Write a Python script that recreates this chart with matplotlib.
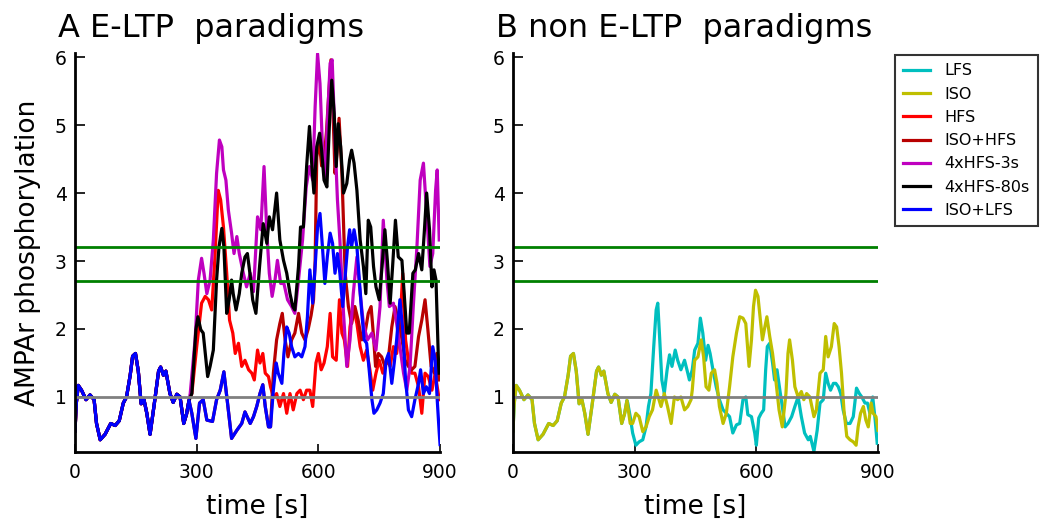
import matplotlib
matplotlib.use('Agg')
import matplotlib.pyplot as plt
import numpy as np

# pre-stimulus trace, shared by every protocol (time [s], value)
baseline = [(0, 0.5), (3, 0.9), (8, 1.17), (16, 1.10), (27, 0.96), (37, 1.03),
            (47, 0.96), (53, 0.61), (62, 0.37), (74, 0.45), (88, 0.61), (99, 0.58),
            (109, 0.65), (119, 0.91), (127, 1.0), (136, 1.32), (142, 1.60),
            (149, 1.64), (156, 1.38), (163, 0.90), (170, 0.96), (177, 0.76),
            (185, 0.45), (195, 0.88), (206, 1.38), (211, 1.44), (218, 1.32),
            (224, 1.38), (234, 1.05), (242, 0.92), (251, 1.04), (259, 1.0),
            (268, 0.61), (275, 0.75), (281, 0.95)]

# left panel: E-LTP paradigms
iso_lfs = [(288, 0.76), (298, 0.39), (307, 0.91), (316, 0.96), (325, 0.66), (339, 0.64),
           (349, 0.96), (358, 1.10), (367, 1.37), (376, 0.91), (386, 0.39), (399, 0.51),
           (411, 0.61), (419, 0.78), (432, 0.61), (440, 0.71), (448, 0.86), (456, 1.05),
           (463, 1.18), (469, 0.86), (477, 0.56), (482, 0.56), (489, 1.10), (496, 1.50),
           (501, 1.35), (510, 1.20), (515, 1.64), (522, 2.03), (528, 1.94), (534, 1.74),
           (542, 1.59), (551, 1.64), (559, 1.59), (567, 1.74), (573, 2.18), (579, 2.87),
           (586, 2.38), (592, 2.92), (598, 3.50), (604, 3.70), (610, 3.21), (616, 2.67),
           (622, 3.06), (629, 3.41), (635, 3.26), (641, 2.82), (647, 3.11), (653, 2.82),
           (660, 2.33), (666, 2.77), (672, 3.21), (677, 3.46), (682, 3.21), (688, 3.46),
           (695, 3.21), (701, 2.72), (707, 2.23), (713, 1.84), (719, 1.79), (726, 1.35),
           (732, 0.96), (737, 0.76), (744, 0.81), (752, 0.91), (760, 1.05), (767, 1.54),
           (773, 1.64), (781, 1.20), (787, 1.50), (793, 1.84), (801, 2.43), (808, 1.99),
           (815, 1.25), (822, 0.81), (830, 0.71), (838, 0.96), (847, 1.20), (852, 1.40),
           (859, 1.05), (866, 1.15), (874, 1.05), (882, 1.74), (888, 1.54), (893, 0.96),
           (898, 0.47), (900, 0.3)]

hfs = [(288, 1.05), (300, 1.74), (312, 2.38), (321, 2.48), (329, 2.43), (337, 2.28),
       (345, 3.06), (353, 4.04), (359, 3.90), (366, 3.50), (374, 2.82), (381, 2.13),
       (389, 1.94), (395, 1.64), (403, 1.79), (411, 1.45), (419, 1.54), (428, 1.40),
       (436, 1.35), (442, 1.25), (450, 1.69), (456, 1.50), (463, 1.64), (469, 1.35),
       (477, 1.30), (482, 1.15), (489, 1.0), (497, 1.05), (505, 0.86), (514, 1.05),
       (522, 0.76), (530, 1.05), (538, 0.81), (547, 1.05), (555, 1.10), (563, 0.96),
       (571, 1.10), (579, 1.10), (586, 0.86), (594, 1.50), (600, 1.64), (607, 1.40),
       (614, 1.50), (622, 1.74), (629, 2.23), (635, 1.59), (644, 1.54), (652, 2.43),
       (658, 1.94), (664, 1.84), (672, 1.45), (678, 2.03), (686, 2.33), (695, 2.08),
       (703, 1.74), (711, 1.54), (719, 1.69), (727, 1.40), (734, 1.10), (742, 1.35),
       (750, 1.54), (759, 1.35), (769, 1.54), (777, 1.45), (785, 1.74), (793, 1.64),
       (801, 2.03), (808, 2.82), (815, 1.84), (822, 1.54), (830, 1.35), (838, 1.35),
       (847, 1.15), (855, 0.76), (863, 1.35), (871, 1.30), (880, 1.10), (888, 1.35),
       (893, 1.15), (898, 0.96)]

# ISO+HFS follows the ISO+LFS trace until ~485 s
iso_hfs = [(489, 1.35), (497, 1.84), (505, 2.08), (511, 2.23), (518, 1.84), (525, 1.59),
           (534, 1.84), (542, 1.94), (551, 2.23), (559, 1.94), (567, 1.84), (575, 2.0),
           (582, 2.2), (588, 2.43), (592, 3.0), (596, 4.53), (602, 4.78), (608, 4.4),
           (614, 4.5), (620, 4.9), (626, 5.5), (631, 5.96), (636, 5.2), (641, 4.29),
           (646, 4.6), (651, 5.10), (658, 4.29), (666, 2.82), (674, 2.33), (682, 2.08),
           (690, 2.33), (698, 2.13), (707, 1.84), (715, 1.94), (723, 2.23), (730, 2.33),
           (736, 1.89), (741, 1.45), (748, 1.64), (756, 1.59), (764, 1.45), (773, 1.59),
           (781, 2.03), (789, 2.33), (797, 2.13), (805, 1.89), (814, 1.54), (822, 1.45),
           (830, 1.40), (838, 1.45), (847, 1.89), (855, 2.13), (863, 2.43), (870, 1.99),
           (878, 1.45), (886, 1.35), (892, 1.64), (897, 1.25)]

hfs4_3s = [(284, 1.05), (296, 1.84), (304, 2.72), (312, 3.04), (318, 2.82), (325, 2.52),
           (333, 2.72), (341, 3.31), (349, 4.29), (356, 4.78), (362, 4.68), (366, 4.34),
           (372, 4.19), (378, 3.75), (386, 3.41), (392, 3.11), (399, 3.36), (405, 3.11),
           (415, 2.82), (423, 2.62), (432, 2.82), (440, 2.55), (450, 3.65), (458, 3.46),
           (466, 4.39), (473, 3.41), (479, 2.82), (486, 2.48), (493, 2.72), (499, 3.01),
           (507, 2.67), (515, 2.67), (524, 2.43), (534, 2.33), (542, 2.23), (551, 2.72),
           (561, 3.31), (570, 4.09), (578, 4.39), (586, 4.19), (592, 5.27), (598, 6.05),
           (604, 5.61), (611, 4.53), (616, 4.19), (622, 5.02), (629, 5.91), (634, 5.96),
           (641, 4.78), (647, 3.90), (653, 3.31), (662, 2.23), (670, 1.45), (678, 1.84),
           (686, 2.52), (695, 3.06), (703, 2.52), (711, 2.08), (721, 1.84), (732, 1.94),
           (742, 1.69), (752, 2.33), (760, 3.60), (769, 2.72), (775, 2.33), (785, 2.38),
           (793, 2.08), (801, 1.74), (810, 1.35), (818, 1.10), (826, 1.45), (834, 2.33),
           (843, 3.21), (851, 4.19), (859, 4.44), (867, 3.70), (875, 2.92), (882, 3.11),
           (889, 4.04), (893, 4.34), (898, 3.31)]

hfs4_80s = [(288, 1.05), (298, 1.99), (303, 2.18), (310, 1.99), (316, 1.94), (327, 1.30),
            (333, 1.45), (341, 1.69), (349, 2.72), (355, 3.21), (362, 3.48), (367, 3.21),
            (374, 2.23), (380, 2.43), (386, 2.72), (390, 2.52), (397, 2.28), (405, 2.52),
            (411, 2.82), (419, 3.06), (425, 3.11), (432, 2.78), (438, 2.43), (446, 2.23),
            (455, 2.92), (464, 3.55), (473, 3.26), (479, 3.65), (487, 3.46), (497, 4.0),
            (505, 3.31), (514, 3.01), (522, 2.82), (530, 2.52), (537, 2.33), (542, 2.28),
            (551, 2.92), (556, 3.50), (563, 3.50), (571, 4.39), (578, 4.98), (584, 4.39),
            (589, 4.0), (596, 4.68), (603, 4.88), (608, 4.63), (614, 4.19), (621, 4.09),
            (627, 4.98), (633, 5.66), (639, 5.17), (644, 4.39), (649, 5.02), (655, 4.68),
            (662, 4.0), (670, 4.14), (677, 4.49), (682, 4.63), (688, 4.44), (695, 4.04),
            (703, 3.31), (711, 2.92), (717, 2.52), (723, 3.60), (729, 3.50), (736, 2.92),
            (742, 2.62), (750, 2.43), (757, 2.92), (764, 3.46), (770, 3.01), (777, 2.38),
            (783, 2.92), (790, 3.60), (797, 3.06), (806, 3.01), (811, 2.57), (818, 1.94),
            (824, 1.94), (833, 2.82), (839, 2.87), (847, 3.11), (855, 2.87), (861, 3.41),
            (867, 4.0), (874, 3.46), (880, 2.62), (885, 2.87), (890, 2.72), (897, 1.35)]

# right panel: non E-LTP paradigms
lfs = [(283, 0.91), (289, 0.71), (295, 0.47), (303, 0.29), (311, 0.34), (320, 0.37),
       (328, 0.56), (334, 0.86), (340, 1.05), (347, 1.74), (353, 2.28), (357, 2.38),
       (361, 1.94), (367, 1.25), (373, 1.05), (380, 1.40), (386, 1.62), (392, 1.45),
       (400, 1.69), (406, 1.54), (414, 1.40), (423, 1.54), (431, 1.35), (435, 1.25),
       (442, 1.40), (448, 1.69), (456, 1.79), (462, 2.16), (468, 1.94), (475, 1.54),
       (481, 1.76), (486, 1.64), (493, 1.40), (501, 1.15), (509, 0.96), (518, 0.81),
       (526, 0.76), (534, 0.71), (542, 0.47), (551, 0.59), (559, 0.61), (567, 0.96),
       (574, 1.0), (579, 0.74), (588, 0.71), (596, 0.47), (600, 0.29), (606, 0.69),
       (612, 0.76), (618, 0.81), (623, 1.40), (627, 1.74), (633, 1.79), (640, 1.50),
       (645, 1.25), (651, 1.40), (658, 1.10), (664, 0.86), (671, 0.56), (678, 0.61),
       (687, 0.71), (695, 0.86), (703, 1.0), (711, 0.71), (719, 0.47), (728, 0.37),
       (733, 0.42), (742, 0.20), (750, 0.51), (757, 0.91), (765, 0.96), (771, 1.35),
       (777, 1.20), (783, 1.10), (790, 1.20), (796, 1.20), (802, 1.15), (808, 1.05),
       (814, 0.81), (822, 0.61), (831, 0.61), (839, 0.71), (847, 1.13), (854, 1.05),
       (860, 1.0), (868, 0.91), (874, 0.91), (880, 0.76), (887, 1.0), (893, 0.66),
       (898, 0.32)]

iso = [(289, 0.61), (295, 0.61), (303, 0.76), (311, 0.71), (320, 0.49), (328, 0.56),
       (336, 0.71), (344, 0.81), (353, 1.10), (358, 1.0), (365, 0.86), (373, 1.05),
       (381, 0.86), (390, 0.61), (398, 1.0), (406, 0.96), (414, 1.0), (423, 0.81),
       (431, 0.86), (439, 0.96), (442, 1.10), (448, 1.54), (456, 1.59), (464, 1.84),
       (470, 1.59), (476, 1.15), (483, 1.10), (489, 1.35), (497, 1.40), (503, 1.20),
       (509, 0.86), (518, 0.61), (526, 0.76), (534, 1.15), (542, 1.59), (551, 1.94),
       (559, 2.18), (567, 2.16), (574, 2.08), (582, 1.45), (588, 1.84), (593, 2.33),
       (598, 2.57), (604, 2.48), (610, 2.13), (615, 1.84), (621, 2.03), (626, 2.18),
       (633, 1.89), (640, 1.64), (648, 1.25), (656, 0.81), (664, 0.56), (673, 1.05),
       (678, 1.64), (682, 1.84), (689, 1.54), (695, 1.15), (703, 1.0), (711, 1.08),
       (717, 0.96), (724, 1.05), (732, 1.0), (742, 0.71), (748, 0.81), (757, 1.35),
       (765, 1.40), (771, 1.89), (777, 1.59), (785, 1.74), (792, 2.08), (798, 2.03),
       (804, 1.74), (810, 1.35), (816, 0.81), (823, 0.42), (831, 0.37), (839, 0.34),
       (846, 0.29), (851, 0.56), (857, 0.76), (864, 0.86), (870, 0.66), (876, 0.56),
       (883, 0.91), (888, 0.76), (895, 0.71), (900, 0.51)]

upper_thr = 3.2
lower_thr = 2.7
basal = 1.0


def trace(*parts):
    pts = [p for part in parts for p in part]
    t, v = np.array(pts).T
    return t, v


iso_lfs_pre = [p for p in iso_lfs if p[0] < 489]

fig = plt.figure(figsize=(10.45, 5.25), dpi=100)
ax1 = fig.add_axes([0.0718, 0.139, 0.3493, 0.760])
ax2 = fig.add_axes([0.4909, 0.139, 0.3493, 0.760])

lw = 2.3
h_lfs, = ax2.plot(*trace(baseline, lfs), color=(0, 0.75, 0.75), lw=lw, label='LFS')
h_iso, = ax2.plot(*trace(baseline, iso), color=(0.75, 0.75, 0), lw=lw, label='ISO')

h_hfs, = ax1.plot(*trace(baseline, hfs), color='r', lw=lw, label='HFS')
h_isohfs, = ax1.plot(*trace(baseline, iso_lfs_pre, iso_hfs), color=(0.72, 0, 0), lw=lw,
                     label='ISO+HFS')
h_3s, = ax1.plot(*trace(baseline, hfs4_3s), color=(0.75, 0, 0.75), lw=lw, label='4xHFS-3s')
h_80s, = ax1.plot(*trace(baseline, hfs4_80s), color='k', lw=lw, label='4xHFS-80s')
h_isolfs, = ax1.plot(*trace(baseline, iso_lfs), color='b', lw=lw, label='ISO+LFS')

for ax in (ax1, ax2):
    ax.axhline(basal, color='gray', lw=2)
    ax.axhline(upper_thr, color='g', lw=2)
    ax.axhline(lower_thr, color='g', lw=2)
    ax.set_xlim(0, 900)
    ax.set_ylim(0.19, 6.06)
    ax.set_xticks([0, 300, 600, 900])
    ax.set_yticks([1, 2, 3, 4, 5, 6])
    ax.spines['top'].set_visible(False)
    ax.spines['right'].set_visible(False)
    ax.spines['left'].set_linewidth(2)
    ax.spines['bottom'].set_linewidth(2)
    ax.tick_params(axis='x', direction='in', length=5.5, width=1.2, pad=8, labelsize=13.5)
    ax.tick_params(axis='y', direction='in', length=7, width=1.2, pad=6, labelsize=13.5)
    ax.set_xlabel('time [s]', fontsize=19)
    ax.xaxis.set_label_coords(0.5, -0.105)

ax1.set_ylabel('AMPAr phosphorylation', fontsize=19)
ax1.yaxis.set_label_coords(-0.093, 0.5)

ax1.text(-0.047, 1.04, 'A E-LTP  paradigms', transform=ax1.transAxes,
         fontsize=23, ha='left', va='baseline')
ax2.text(-0.047, 1.04, 'B non E-LTP  paradigms', transform=ax2.transAxes,
         fontsize=23, ha='left', va='baseline')

handles = [h_lfs, h_iso, h_hfs, h_isohfs, h_3s, h_80s, h_isolfs]
leg = fig.legend(handles=handles, loc='upper left', bbox_to_anchor=(0.849, 0.910),
                 fontsize=11.5, frameon=True, fancybox=False, handlelength=1.7,
                 handletextpad=0.9, labelspacing=0.52, borderpad=0.5)
leg.get_frame().set_edgecolor('k')
leg.get_frame().set_linewidth(1.5)

fig.savefig('out.png', dpi=100)
